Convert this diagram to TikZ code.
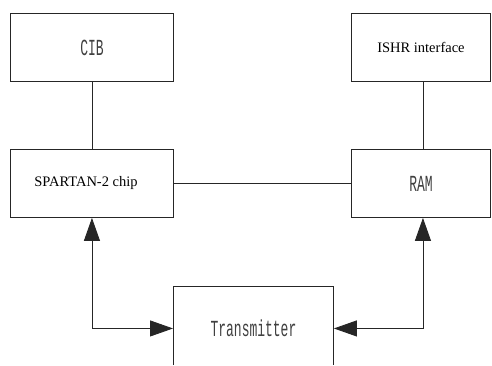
\documentclass[tikz,border=0pt]{standalone}
\usepackage{fontspec}
\setmainfont{Liberation Serif}
\newfontfamily\simfont{Liberation Mono}[FakeStretch=0.565]
\usetikzlibrary{arrows.meta}
\tikzset{
  blk/.style={draw=black!85, line width=0.9pt, inner sep=0pt, anchor=north west},
  con/.style={draw=black!85, line width=0.9pt},
  biarrow/.style={con, {Triangle[length=23pt,width=16pt]}-{Triangle[length=23pt,width=16pt]}},
  simtext/.style={font=\simfont\fontsize{23}{25}\selectfont, text=black!75},
  timestext/.style={font=\fontsize{14.5}{16}\selectfont}
}
\begin{document}
\begin{tikzpicture}[x=1pt,y=-1pt]
\useasboundingbox[fill=white] (0,0) rectangle (492,365);
\coordinate (bot) at (0,365);
\node[blk, minimum width=163pt, minimum height=68pt, simtext] (cib) at (10,13) {CIB};
\node[blk, minimum width=139pt, minimum height=68pt, timestext] (ishr) at (351,13) {ISHR interface};
\node[blk, minimum width=163pt, minimum height=68pt] (spartan) at (10,149) {};
\node[timestext] (spartanlbl) at ([xshift=-6pt]spartan.center) {SPARTAN-2 chip};
\node[blk, minimum width=139pt, minimum height=68pt, simtext] (ram) at (351,149) {RAM};
\node[blk, draw=none, minimum width=160pt, minimum height=84pt, simtext] (trans) at (173,286) {Transmitter};
\draw[con] (trans.north west |- bot) -- (trans.north west) -- (trans.north east) -- (trans.north east |- bot);
\draw[con] (cib.south) -- (spartan.north);
\draw[con] ([xshift=2pt]ishr.south) -- ([xshift=2pt]ram.north);
\draw[con] (spartan.east) -- (ram.west);
\draw[biarrow] (spartan.south) |- (trans.west);
\draw[biarrow] ([xshift=2pt]ram.south) |- (trans.east);
\end{tikzpicture}
\end{document}
